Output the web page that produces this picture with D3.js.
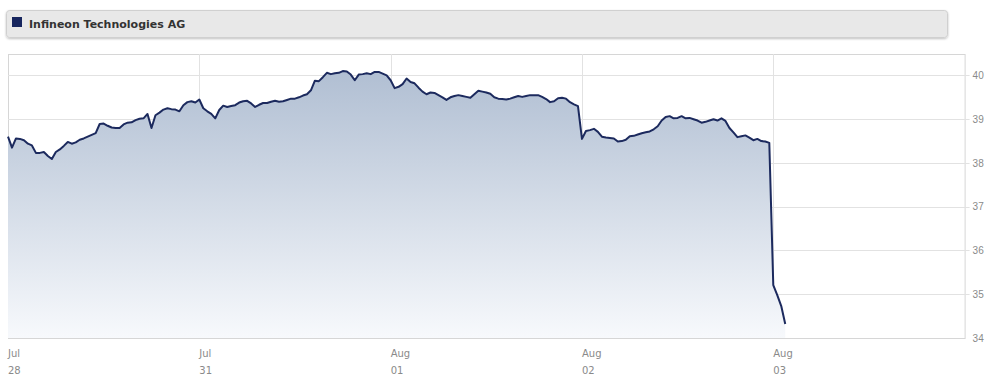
<!DOCTYPE html>
<html>
<head>
<meta charset="utf-8">
<script src="https://cdn.jsdelivr.net/npm/d3@7"></script>
<style>
  body { margin: 0; background: #fff; font-family: "DejaVu Sans", Verdana, sans-serif; }
  .axis text { fill: #8a8a8a; font-size: 10px; }
  .axis path, .axis line { display: none; }
</style>
</head>
<body>
<div id="chart"></div>
<script>
const title = 'Infineon Technologies AG';

// trading days shown on the x axis (month, day)
const dayLabels = [['Jul', '28'], ['Jul', '31'], ['Aug', '01'], ['Aug', '02'], ['Aug', '03']];
const samplesPerDay = 48;

// intraday prices, one sample every 1/48 of a trading day
const pricesJul28 = [38.60, 38.35, 38.56, 38.55, 38.52, 38.44, 38.40, 38.23, 38.23, 38.25,
  38.16, 38.09, 38.25, 38.31, 38.39, 38.48, 38.44, 38.47, 38.53, 38.56,
  38.60, 38.64, 38.68, 38.89, 38.90, 38.85, 38.81, 38.80, 38.80, 38.88,
  38.92, 38.93, 38.98, 39.01, 39.02, 39.12, 38.80, 39.09, 39.15, 39.22,
  39.25, 39.23, 39.22, 39.18, 39.32, 39.39, 39.41, 39.38];
const pricesJul31 = [39.45, 39.25, 39.18, 39.12, 39.02, 39.21, 39.31, 39.28, 39.30, 39.32,
  39.38, 39.41, 39.42, 39.36, 39.28, 39.33, 39.37, 39.37, 39.40, 39.42,
  39.40, 39.41, 39.44, 39.47, 39.47, 39.50, 39.54, 39.57, 39.66, 39.88,
  39.87, 39.96, 40.06, 40.03, 40.05, 40.06, 40.10, 40.09, 40.02, 39.89,
  40.02, 40.03, 40.05, 40.03, 40.08, 40.08, 40.04, 40.00];
const pricesAug01 = [39.89, 39.71, 39.74, 39.80, 39.93, 39.85, 39.82, 39.72, 39.63, 39.57,
  39.61, 39.60, 39.55, 39.50, 39.44, 39.50, 39.53, 39.55, 39.53, 39.51,
  39.49, 39.57, 39.65, 39.63, 39.61, 39.58, 39.50, 39.47, 39.46, 39.45,
  39.47, 39.50, 39.53, 39.51, 39.53, 39.55, 39.55, 39.55, 39.51, 39.46,
  39.39, 39.41, 39.48, 39.49, 39.47, 39.39, 39.34, 39.30];
const pricesAug02 = [38.55, 38.73, 38.75, 38.78, 38.71, 38.60, 38.58, 38.57, 38.56, 38.49,
  38.50, 38.53, 38.61, 38.62, 38.65, 38.68, 38.70, 38.72, 38.77, 38.84,
  38.97, 39.05, 39.07, 39.02, 39.03, 39.07, 39.02, 39.03, 39.00, 38.97,
  38.92, 38.94, 38.97, 39.00, 38.97, 39.02, 38.96, 38.80, 38.70, 38.59,
  38.61, 38.63, 38.58, 38.52, 38.55, 38.50, 38.49, 38.46];
const pricesAug03 = [35.21, 34.98, 34.73, 34.32];

const yTicks = [34, 35, 36, 37, 38, 39, 40];

const days = [pricesJul28, pricesJul31, pricesAug01, pricesAug02, pricesAug03];

const W = 1000, H = 388;
const plot = { left: 8, right: 964.6, top: 54, bottom: 338 };

const svg = d3.select('#chart').append('svg')
  .attr('width', W)
  .attr('height', H);

const defs = svg.append('defs');

const shadow = defs.append('filter').attr('id', 'hdr-shadow')
  .attr('x', '-5%').attr('y', '-30%').attr('width', '110%').attr('height', '180%');
shadow.append('feDropShadow')
  .attr('dx', 0).attr('dy', 1).attr('stdDeviation', 1)
  .attr('flood-color', '#000').attr('flood-opacity', 0.25);

const grad = defs.append('linearGradient').attr('id', 'area-grad')
  .attr('gradientUnits', 'userSpaceOnUse')
  .attr('x1', 0).attr('x2', 0).attr('y1', plot.top).attr('y2', plot.bottom);
grad.append('stop').attr('offset', '0%').attr('stop-color', '#acbbd0');
grad.append('stop').attr('offset', '100%').attr('stop-color', '#f7f9fc');

// --- header / legend bar ---
svg.append('rect')
  .attr('x', 6.5).attr('y', 10.5)
  .attr('width', 941).attr('height', 27)
  .attr('rx', 3)
  .attr('fill', '#e8e8e8')
  .attr('stroke', '#d0d0d0')
  .attr('filter', 'url(#hdr-shadow)');

svg.append('rect')
  .attr('x', 12).attr('y', 17)
  .attr('width', 10).attr('height', 10)
  .attr('fill', '#17265e');

svg.append('text')
  .attr('x', 29).attr('y', 27.5)
  .attr('font-size', '11px')
  .attr('font-weight', 'bold')
  .attr('fill', '#333')
  .text(title);

// --- scales ---
const x = d3.scaleLinear().domain([0, dayLabels.length]).range([plot.left, plot.right]);
const y = d3.scaleLinear().domain([34, 40.49]).range([plot.bottom, plot.top]);

const points = [];
days.forEach((arr, d) => {
  arr.forEach((v, i) => points.push({ t: d + i / samplesPerDay, v }));
});

// --- grid ---
svg.append('rect')
  .attr('x', plot.left + 0.5).attr('y', plot.top + 0.5)
  .attr('width', plot.right - plot.left).attr('height', plot.bottom - plot.top)
  .attr('fill', '#fff')
  .attr('stroke', '#d6d6d6');

svg.append('g').selectAll('line')
  .data(yTicks.slice(1))
  .join('line')
  .attr('x1', plot.left)
  .attr('x2', plot.right + 5)
  .attr('y1', d => Math.round(y(d)) + 0.5)
  .attr('y2', d => Math.round(y(d)) + 0.5)
  .attr('stroke', '#e2e2e2');

svg.append('g').selectAll('line')
  .data(d3.range(1, dayLabels.length))
  .join('line')
  .attr('x1', d => Math.round(x(d)) + 0.5)
  .attr('x2', d => Math.round(x(d)) + 0.5)
  .attr('y1', plot.top)
  .attr('y2', plot.bottom)
  .attr('stroke', '#e2e2e2');

// --- area + line ---
svg.append('path')
  .datum(points)
  .attr('fill', 'url(#area-grad)')
  .attr('d', d3.area()
    .x(d => x(d.t))
    .y0(y(34))
    .y1(d => y(d.v)));

svg.append('path')
  .datum(points)
  .attr('fill', 'none')
  .attr('stroke', '#1c2a5e')
  .attr('stroke-width', 2)
  .attr('stroke-linejoin', 'round')
  .attr('d', d3.line()
    .x(d => x(d.t))
    .y(d => y(d.v)));

// --- y axis on the right ---
svg.append('g')
  .attr('class', 'axis')
  .attr('transform', `translate(${plot.right + 6},0)`)
  .call(d3.axisRight(y).tickValues(yTicks).tickSize(0).tickPadding(2).tickFormat(d3.format('d')));

// --- x axis labels (two rows) ---
const xl = svg.append('g').attr('class', 'axis');
dayLabels.forEach((lab, i) => {
  xl.append('text').attr('x', x(i)).attr('y', 357).text(lab[0]);
  xl.append('text').attr('x', x(i)).attr('y', 374).text(lab[1]);
});
</script>
</body>
</html>
